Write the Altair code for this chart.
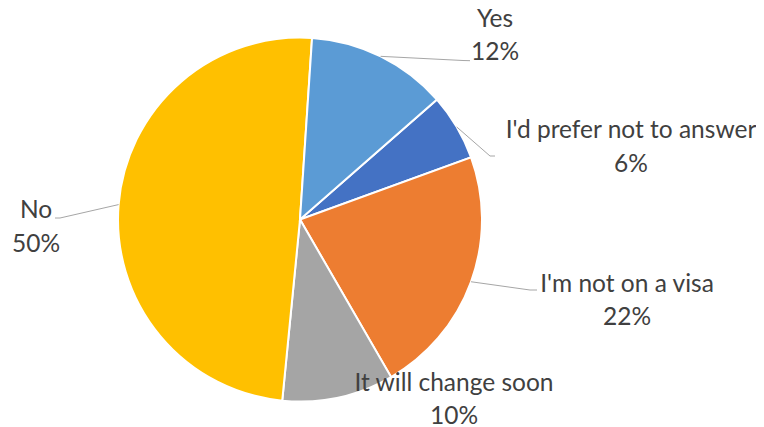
import math
import altair as alt
import pandas as pd

# ---- data ----
categories = ["I'd prefer not to answer", "I'm not on a visa", "It will change soon", "No", "Yes"]
values = [5.9, 22.2, 9.9, 49.5, 12.5]
pct_labels = ["6%", "22%", "10%", "50%", "12%"]

# ---- style / layout ----
colors = ["#4472C4", "#ED7D31", "#A5A5A5", "#FFC000", "#5B9BD5"]
W, H = 748, 419
CX, CY = 292, 211.5
R = 182
START_DEG = 48.8
FONT = "Lato"
FS = 24.5
LH = 33.3
TEXT_COLOR = "#404040"
LEADER_COLOR = "#A6A6A6"
# label anchor (first-line baseline, centred) as offset from pie centre
label_offsets = [(331, -81.2), (327, 72.2), (154, 171.2), (-264, -1.2), (195, -192.8)]
# leader elbow / end offsets from pie centre (None = no leader)
leader_offsets = [
    [(190, -63.5), (195, -63.5)],
    [(230, 70.5), (237, 70.5)],
    None,
    [(-240, -1.5), (-245, -1.5)],
    [(163, -159), (170, -158.8)],
]

total = sum(values)
start = math.radians(START_DEG)

pie_df = pd.DataFrame({"cat": categories, "value": values, "idx": list(range(len(values)))})

# label table
lab_rows = []
for c, p, (dx, dy) in zip(categories, pct_labels, label_offsets):
    lab_rows.append({"cat": c, "text": c + "\n" + p, "tx": CX + dx, "ty": CY + dy})
lab_df = pd.DataFrame(lab_rows)

# leader table: start at slice mid-angle on the rim
lead_rows = []
cum = 0.0
for c, v, lo in zip(categories, values, leader_offsets):
    mid = start + 2 * math.pi * (cum + v / 2) / total
    cum += v
    if lo is None:
        continue
    pts = [(CX + R * math.sin(mid), CY - R * math.cos(mid))]
    pts += [(CX + dx, CY + dy) for dx, dy in lo]
    for k, (px, py) in enumerate(pts):
        lead_rows.append({"cat": c, "k": k, "lx": px, "ly": py})
lead_df = pd.DataFrame(lead_rows)

pie = alt.Chart(pie_df).mark_arc(outerRadius=R, stroke="white", strokeWidth=2).encode(
    theta=alt.Theta("value:Q", stack=True,
                    scale=alt.Scale(domain=[0, total], range=[start, start + 2 * math.pi], nice=False)),
    color=alt.Color("cat:N", scale=alt.Scale(domain=categories, range=colors), legend=None),
    order=alt.Order("idx:Q"),
    x=alt.value(CX),
    y=alt.value(CY),
)

leaders = alt.Chart(lead_df).mark_line(color=LEADER_COLOR, strokeWidth=1).encode(
    x=alt.X("lx:Q", scale=None, axis=None),
    y=alt.Y("ly:Q", scale=None, axis=None),
    detail="cat:N",
    order="k:Q",
)

labels = alt.Chart(lab_df).mark_text(
    lineBreak="\n", align="center", baseline="alphabetic", lineHeight=LH,
    font=FONT, fontSize=FS, color=TEXT_COLOR,
).encode(
    x=alt.X("tx:Q", scale=None, axis=None),
    y=alt.Y("ty:Q", scale=None, axis=None),
    text="text:N",
)

chart = alt.layer(pie, leaders, labels).properties(
    width=W, height=H, padding=0,
    autosize=alt.AutoSizeParams(type="none"),
    background="white",
).configure_view(stroke=None)

chart.save("out.html", embed_options={"renderer": "svg", "actions": False})
